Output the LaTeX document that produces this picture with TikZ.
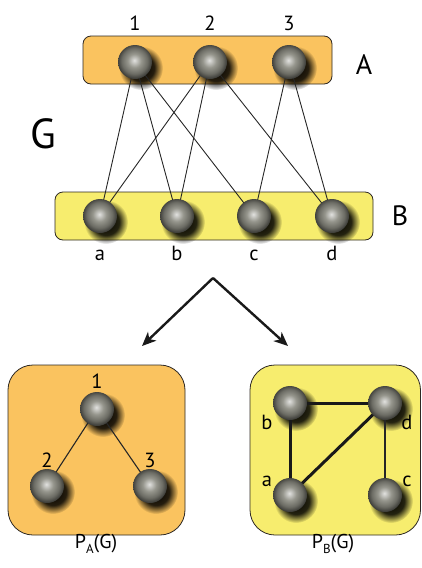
\documentclass[tikz,border=0pt]{standalone}
\usepackage{fontspec}
\setmainfont{PT Sans}
\usetikzlibrary{backgrounds,fadings,arrows.meta,calc}

% colours
\definecolor{boxorange}{RGB}{250,195,95}
\definecolor{boxyellow}{RGB}{247,237,110}
\definecolor{boxline}{RGB}{45,40,35}
\definecolor{sph}{RGB}{138,138,128}

% shaded sphere with a soft highlight slightly above the centre
\pgfdeclareradialshading{sphere}{\pgfqpoint{-1bp}{2.5bp}}{%
  color(0bp)=(sph!25!white); color(10bp)=(sph!90!white); color(19bp)=(sph!78!black);
  color(25bp)=(sph!45!black); color(50bp)=(sph!45!black)}

% soft round fading for the blurred drop shadows (white = opaque, black = clear)
\pgfdeclareradialshading{shadowshade}{\pgfpointorigin}{%
  color(0bp)=(white); color(15bp)=(white!85!black);
  color(25bp)=(black); color(50bp)=(black)}
\pgfdeclarefading{softshadow}{\pgfuseshading{shadowshade}}

\tikzset{
  ball/.style={circle, inner sep=0pt, minimum size=34pt, shading=sphere},
  groupbox/.style={draw=boxline, line width=0.8pt, rounded corners=8pt},
  panel/.style={draw=boxline, line width=0.8pt, rounded corners=25pt},
  bip/.style={line width=0.9pt, black!85},
  thin/.style={line width=1.1pt, black!85},
  heavy/.style={line width=3pt, black!90},
  fork/.style={line width=2.4pt, black!90, -{Stealth[length=14pt,width=12pt,inset=4pt]}},
  lab/.style={anchor=base, inner sep=0pt, font=\fontsize{20.5}{20.5}\selectfont},
  biglab/.style={anchor=base, inner sep=0pt, font=\fontsize{28}{28}\selectfont},
}
\newcommand{\shadowof}[1]{%
  \fill[black, opacity=1, path fading=softshadow] ($(#1.center)+(6,6)$) circle (22);}

\begin{document}
\begin{tikzpicture}[x=1pt, y=-1pt]
\useasboundingbox (0,0) rectangle (422,568);

% vertices of the bipartite graph
\node[ball] (n1) at (135,62) {};
\node[ball] (n2) at (210,62) {};
\node[ball] (n3) at (289,62) {};
\node[ball] (na) at (100,216) {};
\node[ball] (nb) at (177,216) {};
\node[ball] (nc) at (254,216) {};
\node[ball] (nd) at (332,216) {};

% vertices of the two projections
\node[ball] (p1) at (97,409) {};
\node[ball] (p2) at (47,486) {};
\node[ball] (p3) at (150,486) {};
\node[ball] (qb) at (290,403) {};
\node[ball] (qd) at (385,403) {};
\node[ball] (qa) at (290,495) {};
\node[ball] (qc) at (385,495) {};

\begin{pgfonlayer}{background}
  % group boxes and panels
  \filldraw[groupbox, fill=boxorange] (83,36) rectangle (332,84);
  \filldraw[groupbox, fill=boxyellow] (55,192) rectangle (373,240);
  \filldraw[panel, fill=boxorange] (8,365) rectangle (185,535);
  \filldraw[panel, fill=boxyellow] (250,365) rectangle (420.5,535);

  % shadows
  \foreach \v in {n1,n2,n3,na,nb,nc,nd,p1,p2,p3,qb,qd,qa,qc} {\shadowof{\v}}

  % bipartite edges
  \draw[bip] (n1.center) -- (na.center);
  \draw[bip] (n1.center) -- (nb.center);
  \draw[bip] (n1.center) -- (nc.center);
  \draw[bip] (n2.center) -- (na.center);
  \draw[bip] (n2.center) -- (nb.center);
  \draw[bip] (n2.center) -- (nd.center);
  \draw[bip] (n3.center) -- (nc.center);
  \draw[bip] (n3.center) -- (nd.center);

  % projection onto A
  \draw[thin] (p1.center) -- (p2.center);
  \draw[thin] (p1.center) -- (p3.center);

  % projection onto B
  \draw[heavy] (qb.center) -- (qd.center);
  \draw[heavy] (qb.center) -- (qa.center);
  \draw[heavy] (qa.center) -- (qd.center);
  \draw[thin] (qd.center) -- (qc.center);
\end{pgfonlayer}

% projection arrows
\coordinate (split) at (213,278);
\coordinate (toA) at (142,346);
\coordinate (toB) at (288,346);
\draw[fork] (split) -- (toA);
\draw[fork] (split) -- (toB);

% labels
\node[lab] (l1) at (135,30) {1};
\node[lab] (l2) at (210,30) {2};
\node[lab] (l3) at (289,30) {3};
\node[lab] (la) at (100,260) {a};
\node[lab] (lb) at (177,260) {b};
\node[lab] (lc) at (254,260) {c};
\node[lab] (ld) at (332,260) {d};
\node[biglab] (lA) at (364,74) {A};
\node[biglab] (lB) at (400,225) {B};
\node[anchor=base, inner sep=0pt, font=\fontsize{42}{42}\selectfont] (lG) at (43,148) {G};

\node[lab] (m1) at (97,388) {1};
\node[lab] (m2) at (47,467) {2};
\node[lab] (m3) at (150,467) {3};
\node[lab] (mb) at (267,429) {b};
\node[lab] (md) at (407,429) {d};
\node[lab] (ma) at (267,486) {a};
\node[lab] (mc) at (407,486) {c};

\node[anchor=base, inner sep=0pt, font=\fontsize{20}{20}\selectfont] (tA) at (96,548)
  {P\raisebox{-5pt}{\fontsize{13}{13}\selectfont A}(G)};
\node[anchor=base, inner sep=0pt, font=\fontsize{20}{20}\selectfont] (tB) at (333,548)
  {P\raisebox{-5pt}{\fontsize{13}{13}\selectfont B}(G)};
\end{tikzpicture}
\end{document}
